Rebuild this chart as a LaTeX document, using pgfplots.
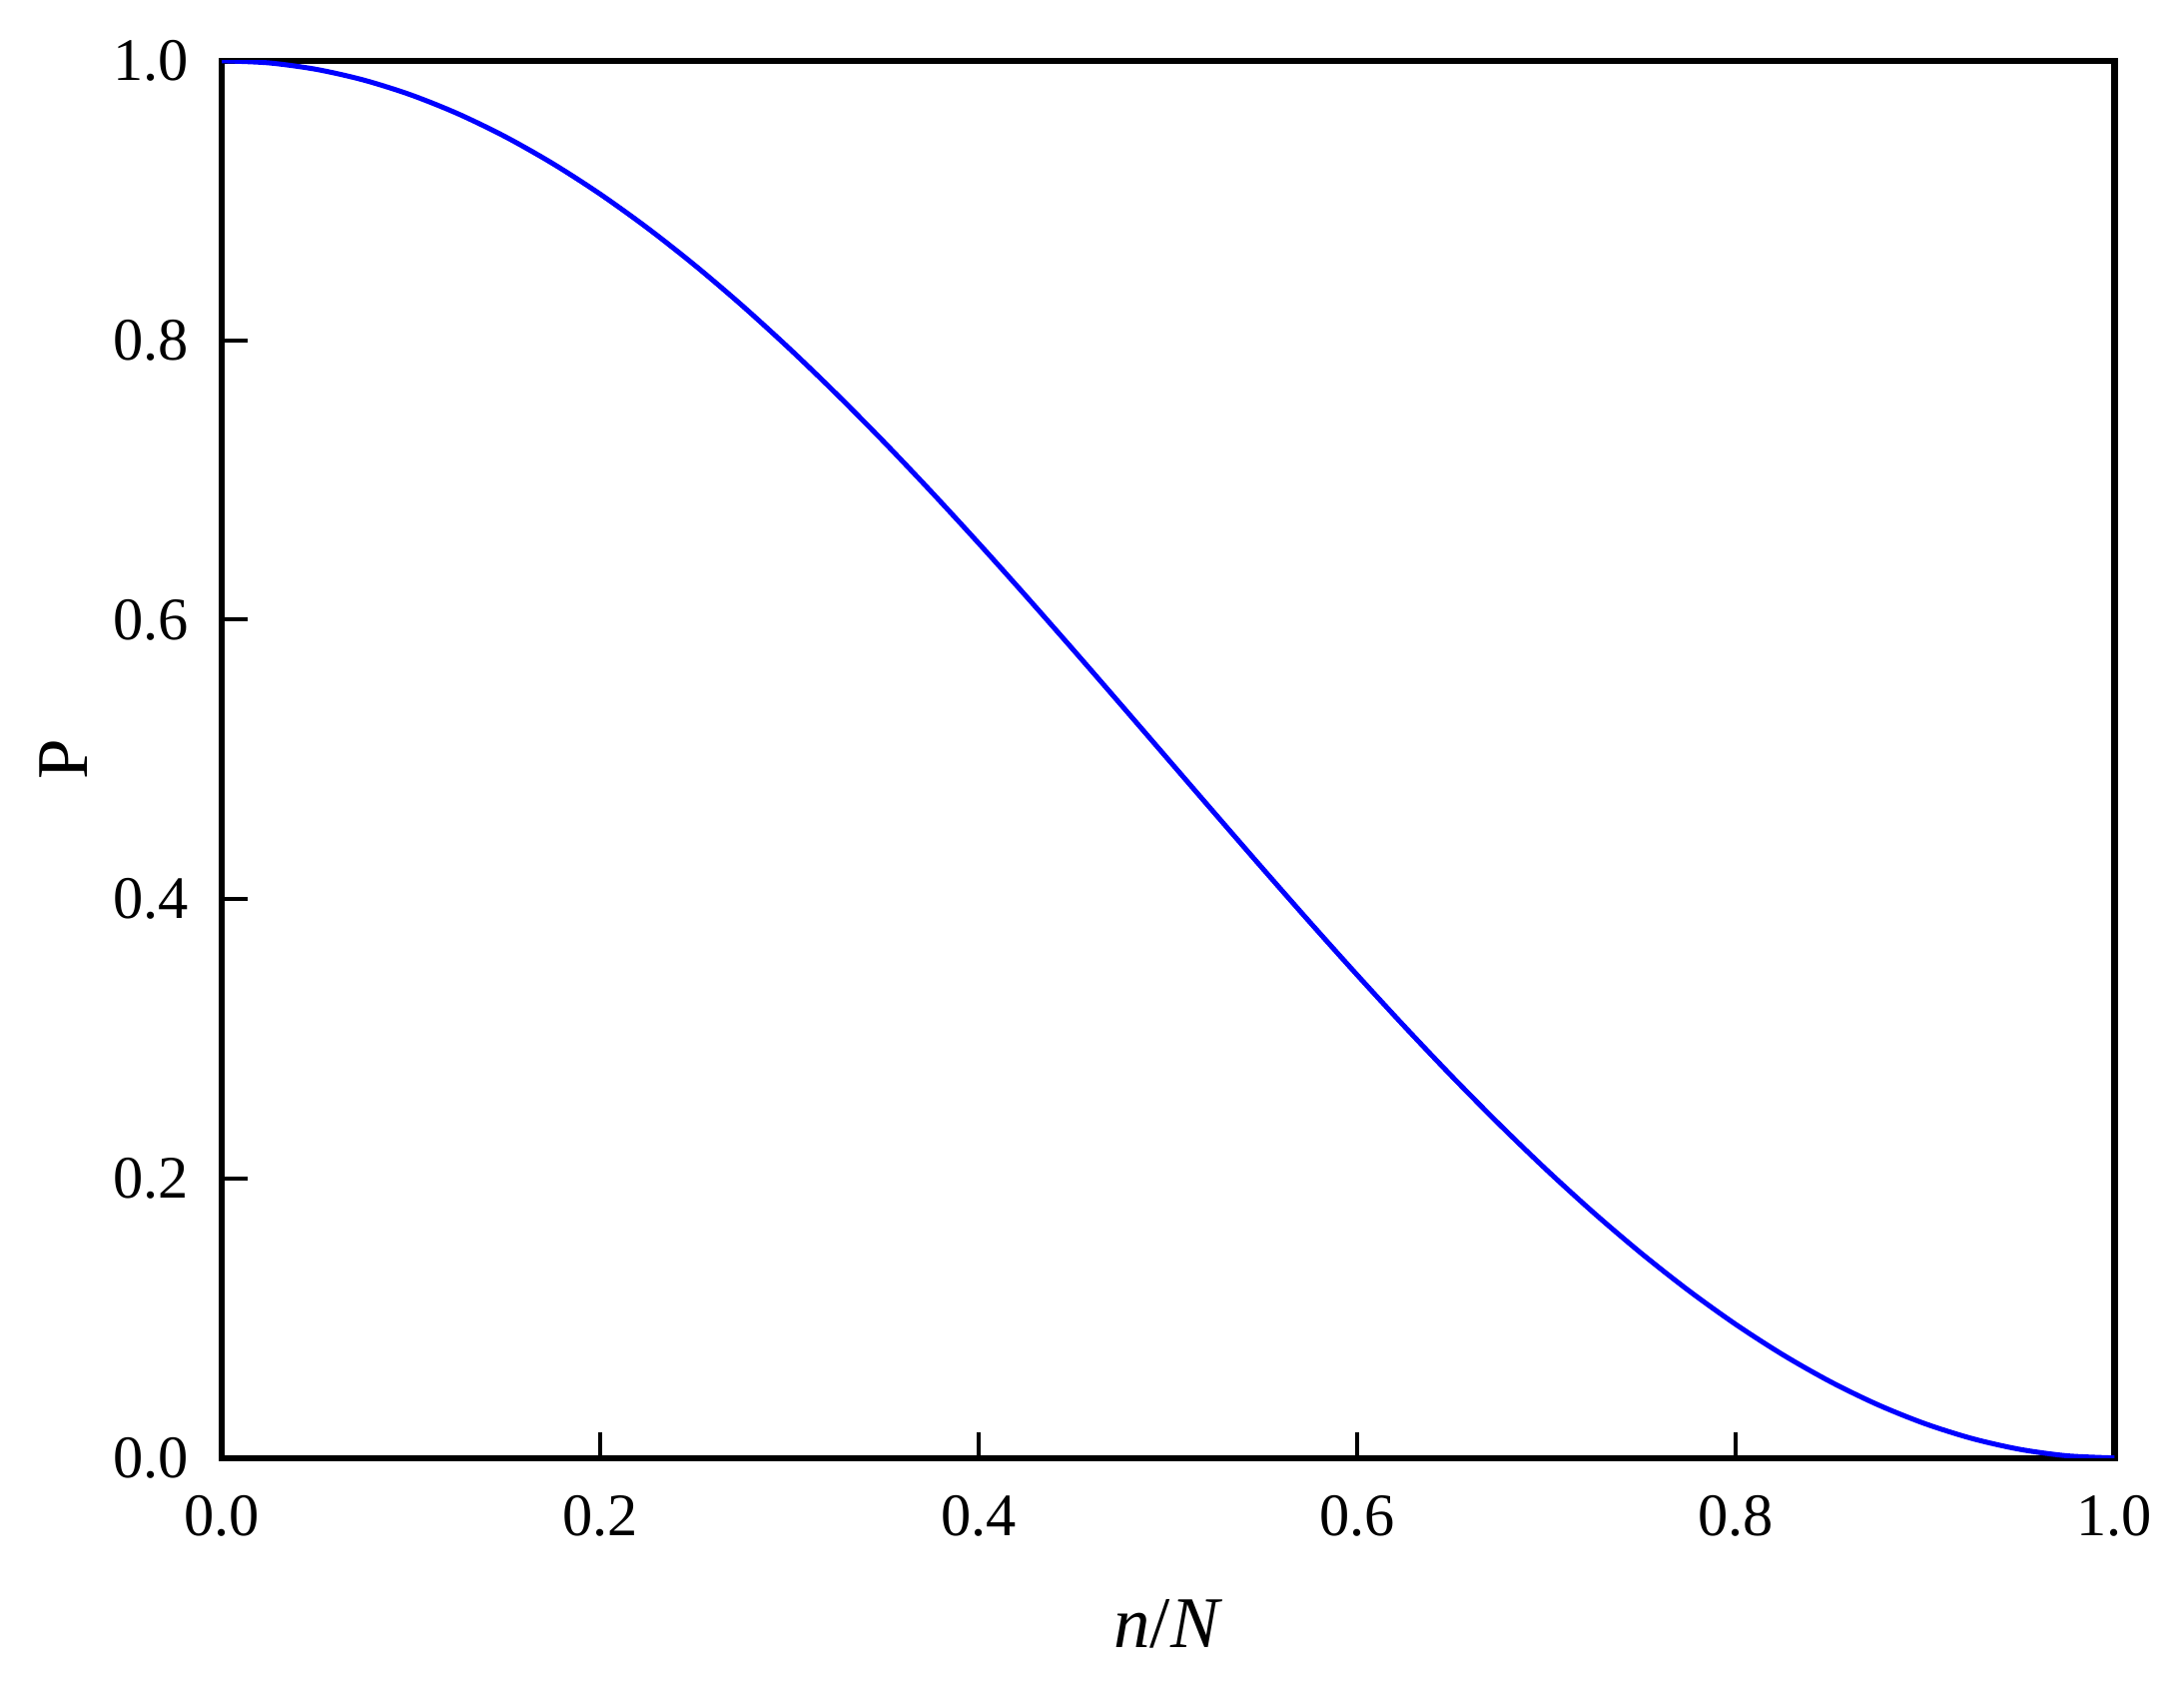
\documentclass[border=0pt]{standalone}
\usepackage{fontspec}
\setmainfont{Liberation Serif}
\usepackage{pgfplots}
\pgfplotsset{compat=1.18}
\begin{document}
\begin{tikzpicture}
\begin{axis}[
  scale only axis,
  width=455pt, height=335.8pt,
  xmin=0, xmax=1, ymin=0, ymax=1,
  xtick={0,0.2,0.4,0.6,0.8,1.0},
  ytick={0,0.2,0.4,0.6,0.8,1.0},
  xticklabels={0.0,0.2,0.4,0.6,0.8,1.0},
  yticklabels={0.0,0.2,0.4,0.6,0.8,1.0},
  xtick pos=bottom, ytick pos=left,
  tick align=inside,
  major tick length=6.2pt,
  every tick/.style={black, line width=1pt},
  axis line style={line width=1.5pt},
  tick label style={font=\fontsize{14.5}{17}\selectfont, inner sep=0pt},
  yticklabel style={anchor=east, xshift=-7.7pt},
  xticklabel style={anchor=north, yshift=-8.9pt},
  xlabel={\textit{n}/\textit{N}},
  ylabel={P},
  label style={font=\fontsize{17.5}{20}\selectfont},
  xlabel style={at={(axis description cs:0.5,-0.1358)}, anchor=base, inner sep=0pt},
  ylabel style={at={(axis description cs:-0.0712,0.5)}, anchor=base, rotate=0, inner sep=0pt},
]
\addplot[color={rgb,255:red,0;green,0;blue,255}, line width=1.2pt, smooth] coordinates {
(0.000,1.00000) (0.025,0.99846) (0.050,0.99384) (0.075,0.98618) (0.100,0.97553)
(0.125,0.96194) (0.150,0.94550) (0.175,0.92632) (0.200,0.90451) (0.225,0.88020)
(0.250,0.85355) (0.275,0.82472) (0.300,0.79389) (0.325,0.76125) (0.350,0.72700)
(0.375,0.69134) (0.400,0.65451) (0.425,0.61672) (0.450,0.57822) (0.475,0.53923)
(0.500,0.50000) (0.525,0.46077) (0.550,0.42178) (0.575,0.38328) (0.600,0.34549)
(0.625,0.30866) (0.650,0.27300) (0.675,0.23875) (0.700,0.20611) (0.725,0.17528)
(0.750,0.14645) (0.775,0.11980) (0.800,0.09549) (0.825,0.07368) (0.850,0.05450)
(0.875,0.03806) (0.900,0.02447) (0.925,0.01382) (0.950,0.00616) (0.975,0.00154)
(1.000,0.00000)
};
\end{axis}
\path[use as bounding box] ([xshift=-53.3pt,yshift=-57.1pt]current axis.south west) rectangle ++(525pt,407.5pt);
\end{tikzpicture}
\end{document}
